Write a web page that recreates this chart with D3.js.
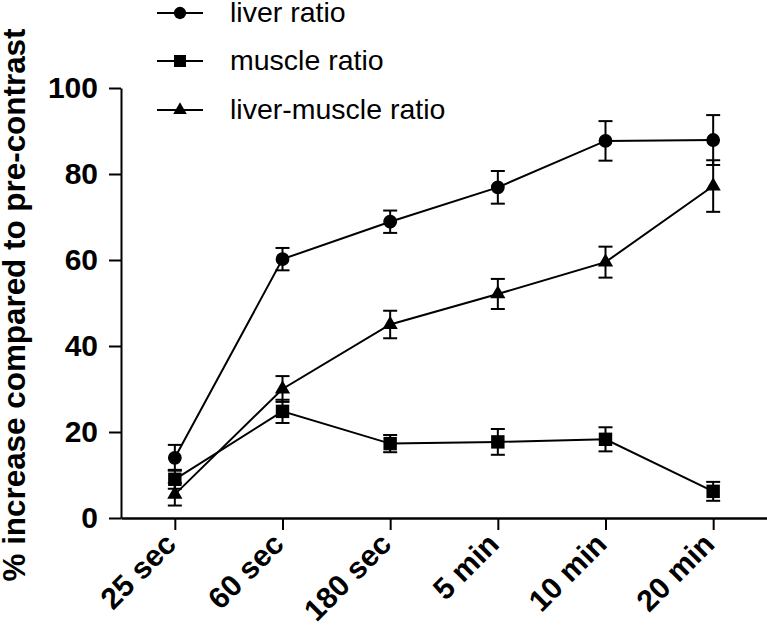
<!DOCTYPE html>
<html><head><meta charset="utf-8">
<script src="https://cdn.jsdelivr.net/npm/d3@7"></script>
<style>body{margin:0;background:#fff}svg{display:block}</style>
</head><body>
<svg id="c" width="767" height="629"></svg>
<script>
const categories = ["25 sec","60 sec","180 sec","5 min","10 min","20 min"];
const liverRatio = [14.0, 60.2, 68.9, 76.9, 87.7, 87.9];
const liverErr   = [3.0, 2.6, 2.6, 3.8, 4.6, 5.8];
const muscleRatio = [9.0, 24.8, 17.3, 17.7, 18.3, 6.2];
const muscleErr   = [2.2, 2.7, 2.0, 3.0, 2.8, 2.2];
const lmRatio = [5.5, 30.0, 45.0, 52.1, 59.5, 77.2];
const lmErr   = [2.6, 3.0, 3.2, 3.5, 3.6, 6.0];
const yTicks = [0,20,40,60,80,100];
const seriesNames = ["liver ratio","muscle ratio","liver-muscle ratio"];

const series = [
  {name: seriesNames[0], values: liverRatio, err: liverErr, sym: d3.symbolCircle, size: 150},
  {name: seriesNames[1], values: muscleRatio, err: muscleErr, sym: d3.symbolSquare, size: 180},
  {name: seriesNames[2], values: lmRatio, err: lmErr, sym: d3.symbolTriangle, size: 100}
];

const svg = d3.select("#c");
const font = "'Liberation Sans', Arial, sans-serif";
const x = d3.scalePoint().domain(categories).range([121, 767]).padding(0.5);
const y = d3.scaleLinear().domain([0, 100]).range([518, 88]);

// axes
const yAxis = svg.append("g").attr("transform", "translate(121,0)")
  .call(d3.axisLeft(y).tickValues(yTicks).tickSize(12).tickPadding(11).tickSizeOuter(0));
yAxis.select(".domain").attr("stroke-width", 2);
yAxis.selectAll(".tick line").attr("stroke-width", 2);
yAxis.selectAll(".tick text").attr("font-family", font).attr("font-weight", "bold")
  .attr("font-size", 30).attr("fill", "#000");

const xAxis = svg.append("g").attr("transform", "translate(0,518)")
  .call(d3.axisBottom(x).tickSize(12).tickSizeOuter(0));
xAxis.select(".domain").attr("stroke-width", 2.5);
xAxis.selectAll(".tick line").attr("stroke-width", 2);
xAxis.selectAll(".tick text").remove();

// rotated category labels
svg.append("g").selectAll("text").data(categories).join("text")
  .attr("font-family", font).attr("font-weight", "bold")
  .attr("font-size", 30).attr("fill", "#000")
  .attr("text-anchor", "end")
  .attr("x", d => x(d) + 3).attr("y", 546)
  .attr("transform", d => `rotate(-45, ${x(d) + 3}, 546)`)
  .text(d => d);

// y title
svg.append("text").attr("transform", "translate(25,305) rotate(-90)")
  .attr("text-anchor", "middle").attr("font-family", font).attr("font-weight", "bold")
  .attr("font-size", 32).attr("textLength", 553).attr("lengthAdjust", "spacingAndGlyphs")
  .text("% increase compared to pre-contrast");

// series
const line = d3.line().x((d, i) => x(categories[i])).y(d => y(d));
series.forEach(s => {
  svg.append("path").attr("d", line(s.values)).attr("fill", "none")
    .attr("stroke", "#000").attr("stroke-width", 2);
});
series.forEach(s => {
  const g = svg.append("g").attr("stroke", "#000").attr("stroke-width", 2);
  s.values.forEach((v, i) => {
    const cx = x(categories[i]);
    const e = s.err[i];
    g.append("line").attr("x1", cx).attr("x2", cx).attr("y1", y(v + e)).attr("y2", y(v - e));
    [v + e, v - e].forEach(w => g.append("line").attr("x1", cx - 7).attr("x2", cx + 7)
      .attr("y1", y(w)).attr("y2", y(w)));
  });
});
series.forEach(s => {
  svg.append("g").selectAll("path").data(s.values).join("path")
    .attr("transform", (d, i) => `translate(${x(categories[i])},${y(d)})`)
    .attr("d", d3.symbol().type(s.sym).size(s.size)).attr("fill", "#000");
});

// legend
const legY = [13, 61, 110];
series.forEach((s, i) => {
  const g = svg.append("g").attr("transform", `translate(0,${legY[i]})`);
  g.append("line").attr("x1", 157).attr("x2", 203).attr("stroke", "#000").attr("stroke-width", 2);
  g.append("path").attr("transform", "translate(180,0)")
    .attr("d", d3.symbol().type(s.sym).size(s.size * 0.8)).attr("fill", "#000");
  g.append("text").attr("x", 230).attr("y", 9).attr("font-family", font)
    .attr("font-size", 28.5).text(s.name);
});
</script>
</body></html>
